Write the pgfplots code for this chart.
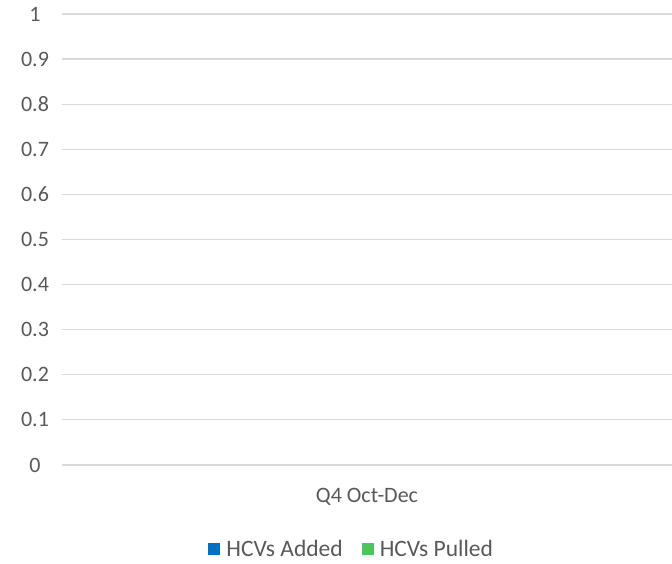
\documentclass[border=0pt]{standalone}
\usepackage{pgfplots}
\pgfplotsset{compat=1.18}
\usepackage{fontspec}
\setmainfont{Carlito}
\definecolor{txt}{HTML}{595959}
\definecolor{grd}{HTML}{D9D9D9}
\definecolor{cblue}{HTML}{0070C0}
\definecolor{cgreen}{HTML}{4EC35E}
\begin{document}
\begin{tikzpicture}
\begin{axis}[
    scale only axis,
    width=610pt, height=451pt,
    axis on top,
    ybar, bar width=60pt,
    xmin=-0.5, xmax=0.5,
    ymin=0, ymax=1,
    xtick={0}, xticklabels={Q4 Oct-Dec},
    ytick={0,0.1,0.2,0.3,0.4,0.5,0.6,0.7,0.8,0.9,1},
    yticklabels={0,0.1,0.2,0.3,0.4,0.5,0.6,0.7,0.8,0.9,1},
    axis line style={draw=none},
    major tick length=0pt,
    ymajorgrids,
    grid style={grd, line width=1.2pt},
    tick label style={font=\fontsize{22}{26}\selectfont, text=txt},
    yticklabel style={anchor=center, xshift=-27pt},
    xticklabel style={anchor=center, yshift=-32pt},
    legend columns=2,
    legend style={at={(axis description cs:0.475,-0.186)}, anchor=center,
        draw=none, fill=none, font=\fontsize{23.5}{27}\selectfont, text=txt,
        /tikz/every odd column/.append style={column sep=4pt},
        /tikz/every even column/.append style={column sep=17pt}},
    legend image code/.code={\fill[#1] (0pt,-6pt) rectangle (12pt,6pt);},
]
\addplot[fill=cblue, draw=none] coordinates {(0,0)};
\addlegendentry{HCVs Added}
\addplot[fill=cgreen, draw=none] coordinates {(0,0)};
\addlegendentry{HCVs Pulled}
\coordinate (bl) at (rel axis cs:0,0);
\coordinate (tr) at (rel axis cs:1,1);
\end{axis}
\pgfresetboundingbox
\path ([xshift=-62pt,yshift=-99pt]bl) rectangle ([yshift=14pt]tr);
\end{tikzpicture}
\end{document}
